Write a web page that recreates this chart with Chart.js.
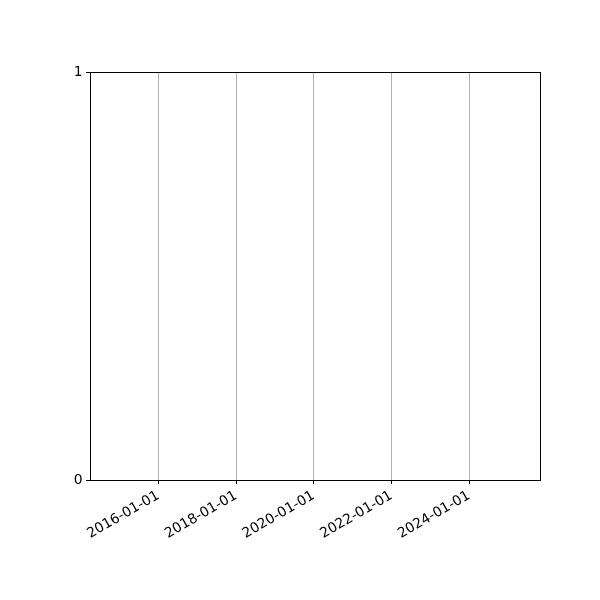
<!DOCTYPE html>
<html>
<head>
<meta charset="utf-8">
<script src="https://cdn.jsdelivr.net/npm/chart.js@4"></script>
<style>
  html, body { margin: 0; padding: 0; background: #fff; }
  canvas { display: block; }
</style>
</head>
<body>
<canvas id="chart" width="600" height="600"></canvas>
<script>
// the series is empty: only the axes are drawn
const dates = [];
const values = [];
const tickDates = ['2016-01-01', '2018-01-01', '2020-01-01', '2022-01-01', '2024-01-01'];
const xRange = ['2014-03-30', '2025-10-29'];
const yTicks = [0, 1];

const toMs = (s) => Date.parse(s + 'T00:00:00Z');
const fmt = (ms) => new Date(ms).toISOString().slice(0, 10);

const font = { family: 'DejaVu Sans', size: 13.9 };

// matplotlib draws a closed frame round the axes
const frame = {
  id: 'frame',
  afterDraw(chart) {
    const { ctx, chartArea: a } = chart;
    const l = Math.round(a.left) + 0.5, t = Math.round(a.top) + 0.5;
    const r = Math.round(a.right) + 0.5, b = Math.round(a.bottom) + 0.5;
    ctx.save();
    ctx.strokeStyle = '#000';
    ctx.lineWidth = 1;
    ctx.strokeRect(l, t, r - l, b - t);
    ctx.restore();
  },
};

new Chart(document.getElementById('chart'), {
  type: 'line',
  data: {
    datasets: [{
      data: dates.map((d, i) => ({ x: toMs(d), y: values[i] })),
      borderColor: '#1f77b4',
    }],
  },
  options: {
    responsive: false,
    animation: false,
    layout: { padding: { left: 0, top: 72, right: 60, bottom: 0 } },
    plugins: { legend: { display: false }, tooltip: { enabled: false } },
    scales: {
      x: {
        type: 'linear',
        min: toMs(xRange[0]),
        max: toMs(xRange[1]),
        afterBuildTicks(scale) {
          scale.ticks = tickDates.map((d) => ({ value: toMs(d) }));
        },
        afterFit(scale) { scale.height = 120; },
        grid: {
          color: '#b0b0b0',
          lineWidth: 1,
          tickColor: '#000',
          tickLength: 4,
          tickWidth: 1,
        },
        border: { display: false },
        ticks: {
          callback: (v) => fmt(v),
          minRotation: 30,
          maxRotation: 30,
          autoSkip: false,
          padding: 3.5,
          color: '#000',
          font,
        },
      },
      y: {
        min: 0,
        max: 1,
        afterBuildTicks(scale) {
          scale.ticks = yTicks.map((v) => ({ value: v }));
        },
        afterFit(scale) { scale.width = 90; },
        grid: {
          drawOnChartArea: false,
          tickColor: '#000',
          tickLength: 4,
          tickWidth: 1,
        },
        border: { display: false },
        ticks: {
          padding: 3.5,
          color: '#000',
          font,
        },
      },
    },
  },
  plugins: [frame],
});
</script>
</body>
</html>
